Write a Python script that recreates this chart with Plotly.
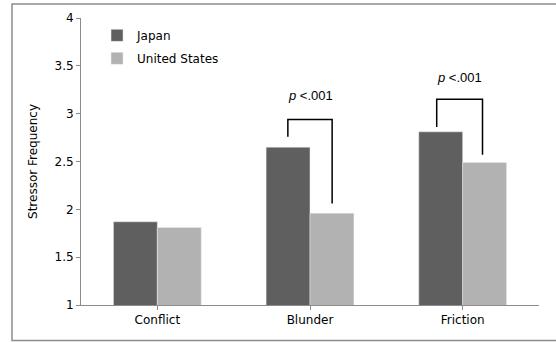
import plotly.graph_objects as go

categories = ["Conflict", "Blunder", "Friction"]
japan = [1.87, 2.65, 2.81]
united_states = [1.81, 1.96, 2.49]
y_ticks = [1, 1.5, 2, 2.5, 3, 3.5, 4]
y_tick_labels = ["1", "1.5", "2", "2.5", "3", "3.5", "4"]

# significance brackets: (category index, left offset, right offset, top, left bottom, right bottom, label y)
brackets = [
    (1, -0.145, 0.145, 2.94, 2.76, 2.06, 3.19),
    (2, -0.17, 0.13, 3.15, 2.86, 2.57, 3.38),
]
bracket_label = "<i>p</i> &lt;.001"

font_main = "DejaVu Sans, sans-serif"

fig = go.Figure()
fig.add_trace(go.Bar(x=[0, 1, 2], y=japan, name="Japan", marker_color="#5f5f5f",
                     legendgroup="a", base=0))
fig.add_trace(go.Bar(x=[0, 1, 2], y=united_states, name="United States", marker_color="#b2b2b2",
                     legendgroup="b", base=0))

shapes = []
annotations = []
for ci, lo, ro, top, lb, rb, ty in brackets:
    xl = ci + lo
    xr = ci + ro
    shapes.append(dict(type="path", xref="x", yref="y",
                       path=f"M {xl},{lb} L {xl},{top} L {xr},{top} L {xr},{rb}",
                       line=dict(color="black", width=1.5)))
    annotations.append(dict(x=(xl + xr) / 2, y=ty, xref="x", yref="y", text=bracket_label,
                            showarrow=False,
                            font=dict(family="Liberation Sans, Arial, sans-serif", size=13, color="black")))

# outer chart border (right edge falls just outside the view, as in the reference)
shapes.append(dict(type="rect", xref="paper", yref="paper", x0=-0.1507, x1=1.045, y0=-0.1237, y1=1.0488,
                   line=dict(color="#8c8c8c", width=1.5), fillcolor="rgba(0,0,0,0)", layer="above"))

fig.update_layout(
    width=556, height=342,
    margin=dict(l=81, r=17, t=18, b=37),
    paper_bgcolor="white", plot_bgcolor="white",
    barmode="group", bargap=0.425, bargroupgap=0,
    font=dict(family=font_main, size=12, color="black"),
    showlegend=True,
    legend=dict(x=0.035, y=0.99, xanchor="left", yanchor="top", bgcolor="rgba(0,0,0,0)",
                font=dict(size=12), tracegroupgap=4, itemwidth=30),
    shapes=shapes,
    annotations=annotations,
)
fig.update_xaxes(
    tickmode="array", tickvals=[0, 1, 2], ticktext=categories,
    range=[-0.5, 2.5], showline=True, linecolor="#8c8c8c", linewidth=1,
    ticks="outside", ticklen=4, tickcolor="#8c8c8c", tickson="boundaries",
    showgrid=False, zeroline=False, tickfont=dict(size=12),
)
fig.update_yaxes(
    range=[1, 4], tickmode="array", tickvals=y_ticks, ticktext=y_tick_labels,
    showline=True, linecolor="#8c8c8c", linewidth=1,
    ticks="outside", ticklen=4, tickcolor="#8c8c8c",
    showgrid=False, zeroline=False, tickfont=dict(size=12),
    title=dict(text="Stressor Frequency", font=dict(size=12), standoff=14),
)
fig.write_html("out.html", config={"displayModeBar": False},
               post_script="document.body.style.margin='0';")
